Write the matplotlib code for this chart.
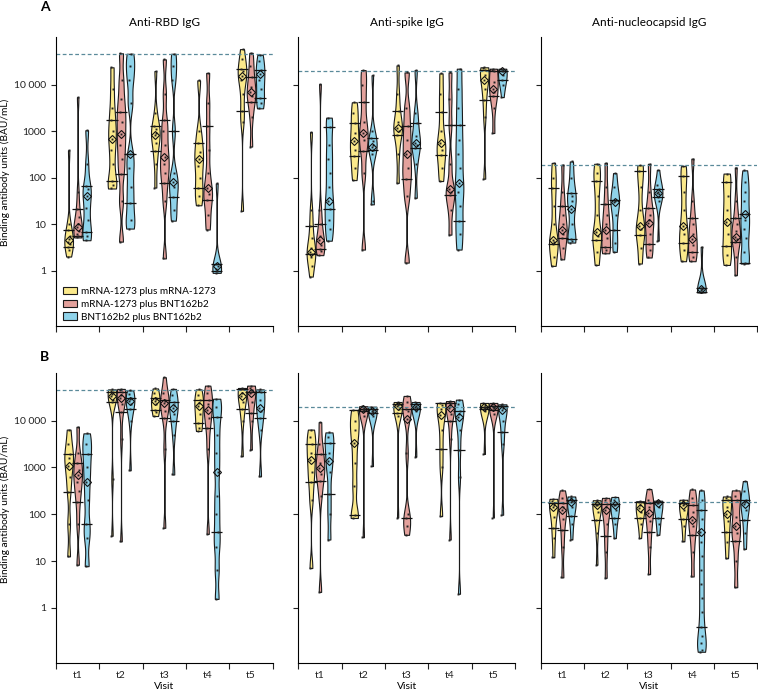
import numpy as np
import matplotlib
matplotlib.use("Agg")
import matplotlib.pyplot as plt
from matplotlib.patches import Patch

plt.rcParams.update({
    "font.family": ["Lato", "DejaVu Sans"],
    "font.size": 7.5,
    "axes.linewidth": 0.8,
    "xtick.major.width": 0.8,
    "ytick.major.width": 0.8,
    "xtick.major.size": 4,
    "ytick.major.size": 3.5,
    "xtick.color": "#222222",
    "ytick.color": "#222222",
})

VISITS = ["t1", "t2", "t3", "t4", "t5"]
GROUPS = ["mRNA-1273 plus mRNA-1273", "mRNA-1273 plus BNT162b2", "BNT162b2 plus BNT162b2"]
COLORS = ["#fbe98b", "#e3a19c", "#8fd3ea"]
ANTIGENS = ["Anti-RBD IgG", "Anti-spike IgG", "Anti-nucleocapsid IgG"]
ULOQ = [4.66, 4.30, 2.27]          # dashed reference lines, log10 BAU/mL

# every violin: (lower line, diamond, upper line, individual values), all log10 BAU/mL
# --- panel A ---
rbd_a_mm = [
    (0.52, 0.66, 0.88, [0.31, 0.45, 0.52, 0.58, 0.63, 0.68, 0.75, 0.88, 1.0, 2.59]),
    (1.93, 2.84, 3.23, [1.77, 1.85, 1.93, 2.3, 2.6, 2.84, 3.0, 3.23, 3.5, 3.9, 4.37]),
    (2.57, 2.91, 3.10, [1.79, 2.3, 2.57, 2.75, 2.91, 2.95, 3.05, 3.1, 3.4, 4.29]),
    (1.77, 2.41, 2.75, [1.41, 1.6, 1.77, 2.0, 2.25, 2.41, 2.55, 2.75, 3.0, 4.09]),
    (3.44, 4.18, 4.34, [1.29, 3.2, 3.44, 3.8, 4.1, 4.18, 4.3, 4.34, 4.55, 4.76]),
]
rbd_a_mb = [
    (0.76, 0.94, 1.34, [0.72, 0.76, 0.8, 0.86, 0.94, 1.0, 1.15, 1.34, 1.7, 3.73]),
    (2.09, 2.93, 3.41, [0.63, 1.5, 2.09, 2.4, 2.7, 2.93, 3.2, 3.41, 3.7, 4.1, 4.67]),
    (1.89, 2.45, 3.23, [0.27, 1.5, 1.89, 2.1, 2.3, 2.45, 2.7, 3.0, 3.23, 3.8, 4.54]),
    (1.52, 1.77, 3.10, [0.89, 1.2, 1.52, 1.65, 1.77, 2.1, 2.6, 3.1, 3.6, 4.25]),
    (3.62, 3.84, 4.16, [2.67, 3.3, 3.62, 3.75, 3.84, 3.95, 4.16, 4.4, 4.68]),
]
rbd_a_bb = [
    (0.83, 1.60, 1.83, [0.66, 0.75, 0.83, 1.1, 1.35, 1.6, 1.75, 1.83, 2.3, 3.02]),
    (1.45, 2.50, 2.50, [0.91, 1.1, 1.45, 1.8, 2.2, 2.5, 3.6, 4.1, 4.4, 4.66]),
    (1.59, 1.91, 3.00, [1.08, 1.3, 1.59, 1.8, 1.91, 2.1, 3.0, 4.1, 4.4, 4.66]),
    (-0.01, 0.11, 0.16, [-0.04, -0.01, 0.05, 0.11, 0.16, 1.88]),
    (3.71, 4.23, 4.31, [3.49, 3.6, 3.71, 3.9, 4.1, 4.23, 4.31, 4.5, 4.64]),
]
spike_a_mm = [
    (0.36, 0.41, 0.97, [-0.12, 0.1, 0.3, 0.36, 0.41, 0.5, 0.7, 0.97, 1.3, 2.98]),
    (2.46, 2.78, 3.18, [1.95, 2.2, 2.46, 2.6, 2.78, 2.95, 3.18, 3.4, 3.62]),
    (2.92, 3.07, 3.44, [1.89, 2.5, 2.92, 3.0, 3.07, 3.2, 3.44, 3.8, 4.41]),
    (2.48, 2.75, 3.42, [1.93, 2.2, 2.48, 2.6, 2.75, 3.0, 3.42, 3.8, 4.24]),
    (3.67, 4.09, 4.31, [1.98, 3.3, 3.67, 3.9, 4.09, 4.2, 4.31, 4.35, 4.37]),
]
spike_a_mb = [
    (0.47, 0.66, 1.00, [0.34, 0.42, 0.47, 0.55, 0.66, 0.75, 1.0, 1.3, 4.01]),
    (2.57, 2.97, 3.62, [0.46, 2.1, 2.57, 2.8, 2.97, 3.2, 3.62, 4.0, 4.31]),
    (1.97, 2.50, 3.11, [0.18, 1.6, 1.97, 2.2, 2.5, 2.8, 3.11, 3.5, 4.26]),
    (1.63, 1.75, 3.14, [0.78, 1.3, 1.63, 1.7, 1.75, 2.3, 3.14, 3.7, 4.26]),
    (3.76, 3.91, 4.28, [2.96, 3.5, 3.76, 3.85, 3.91, 4.05, 4.28, 4.31, 4.34]),
]
spike_a_bb = [
    (1.34, 1.50, 3.08, [0.65, 0.9, 1.1, 1.34, 1.5, 1.8, 2.1, 2.4, 2.7, 3.08, 3.29]),
    (2.59, 2.66, 2.85, [1.43, 1.5, 2.5, 2.59, 2.66, 2.7, 2.78, 2.85, 3.0, 4.2]),
    (2.64, 2.75, 3.17, [1.57, 2.3, 2.64, 2.7, 2.75, 2.9, 3.17, 3.4, 4.31]),
    (1.08, 1.88, 3.14, [0.46, 0.8, 1.08, 1.4, 1.7, 1.88, 2.2, 2.5, 2.8, 3.14, 3.5, 3.9, 4.34]),
    (4.10, 4.29, 4.28, [3.73, 4.0, 4.1, 4.2, 4.29, 4.3, 4.32, 4.34]),
]
nuc_a_mm = [
    (0.57, 0.66, 1.77, [0.11, 0.3, 0.57, 0.62, 0.66, 1.0, 1.4, 1.77, 2.0, 2.32]),
    (0.66, 0.83, 1.93, [0.13, 0.4, 0.66, 0.75, 0.83, 1.2, 1.6, 1.93, 2.1, 2.3]),
    (0.77, 0.97, 2.14, [0.16, 0.5, 0.77, 0.9, 0.97, 1.3, 1.8, 2.14, 2.27]),
    (0.61, 0.97, 2.03, [0.21, 0.45, 0.61, 0.8, 0.97, 1.3, 1.7, 2.03, 2.25]),
    (0.54, 1.06, 1.91, [0.13, 0.35, 0.54, 0.8, 1.06, 1.3, 1.6, 1.91, 2.09]),
]
nuc_a_mb = [
    (0.70, 0.89, 1.39, [0.25, 0.5, 0.7, 0.8, 0.89, 1.0, 1.2, 1.39, 1.7, 2.28]),
    (0.52, 0.88, 1.43, [0.38, 0.45, 0.52, 0.7, 0.88, 1.0, 1.2, 1.43, 1.8, 2.32]),
    (0.57, 1.02, 1.36, [0.29, 0.45, 0.57, 0.8, 1.02, 1.1, 1.2, 1.36, 1.7, 2.3]),
    (0.40, 0.68, 1.13, [0.21, 0.3, 0.4, 0.55, 0.68, 0.8, 1.0, 1.13, 1.5, 2.41]),
    (0.63, 0.73, 1.13, [-0.09, 0.3, 0.63, 0.68, 0.73, 0.85, 1.0, 1.13, 1.5, 2.22]),
]
nuc_a_bb = [
    (0.68, 1.33, 1.68, [0.61, 0.65, 0.68, 1.0, 1.33, 1.5, 1.6, 1.68, 2.0, 2.35]),
    (0.88, 1.48, 1.53, [0.41, 0.6, 0.88, 1.2, 1.48, 1.5, 1.53, 1.8, 2.1]),
    (1.59, 1.68, 1.75, [0.65, 1.5, 1.59, 1.65, 1.68, 1.7, 1.75, 1.85, 2.17]),
    (-0.44, -0.39, -0.36, [-0.46, -0.44, -0.41, -0.39, -0.37, -0.36, 0.52]),
    (0.18, 1.23, 1.23, [0.16, 0.18, 0.4, 0.7, 0.9, 1.1, 1.23, 1.5, 1.7, 1.9, 2.16]),
]
# --- panel B ---
rbd_b_mm = [
    (2.48, 3.04, 3.28, [1.1, 1.8, 2.48, 2.8, 3.04, 3.2, 3.28, 3.5, 3.81]),
    (4.40, 4.53, 4.61, [1.54, 2.75, 4.4, 4.45, 4.53, 4.58, 4.61, 4.64, 4.67]),
    (4.23, 4.42, 4.49, [4.1, 4.18, 4.23, 4.35, 4.42, 4.46, 4.49, 4.6, 4.69]),
    (3.95, 4.31, 4.44, [3.78, 3.85, 3.95, 4.15, 4.31, 4.38, 4.44, 4.55, 4.67]),
    (4.24, 4.53, 4.67, [3.24, 4.0, 4.24, 4.4, 4.53, 4.6, 4.67, 4.68, 4.70]),
]
rbd_b_mb = [
    (2.26, 2.83, 3.10, [0.92, 1.8, 2.26, 2.5, 2.7, 2.83, 2.95, 3.1, 3.3, 3.87]),
    (4.18, 4.49, 4.61, [1.42, 3.6, 4.18, 4.35, 4.49, 4.55, 4.61, 4.65, 4.68]),
    (4.05, 4.38, 4.45, [1.71, 3.4, 4.05, 4.2, 4.38, 4.42, 4.45, 4.6, 4.93]),
    (3.85, 4.23, 4.45, [1.58, 3.4, 3.85, 4.05, 4.23, 4.35, 4.45, 4.6, 4.75]),
    (4.17, 4.60, 4.61, [3.38, 4.0, 4.17, 4.4, 4.6, 4.62, 4.65, 4.7, 4.75]),
]
rbd_b_bb = [
    (1.80, 2.70, 3.29, [0.89, 1.5, 1.8, 2.3, 2.7, 3.0, 3.29, 3.5, 3.73]),
    (4.24, 4.42, 4.49, [2.94, 4.0, 4.24, 4.35, 4.42, 4.46, 4.49, 4.58, 4.65]),
    (3.99, 4.28, 4.40, [2.85, 3.7, 3.99, 4.15, 4.28, 4.34, 4.4, 4.55, 4.68]),
    (1.61, 2.91, 4.08, [0.19, 0.8, 1.3, 1.61, 2.0, 2.4, 2.91, 3.3, 3.7, 4.08, 4.3, 4.47]),
    (4.05, 4.28, 4.61, [2.81, 3.8, 4.05, 4.2, 4.28, 4.45, 4.61, 4.64, 4.67]),
]
spike_b_mm = [
    (2.69, 3.15, 3.50, [0.85, 2.3, 2.69, 2.9, 3.15, 3.3, 3.5, 3.65, 3.81]),
    (1.99, 3.53, 4.23, [1.92, 1.99, 2.6, 3.1, 3.53, 3.8, 4.0, 4.23]),
    (4.17, 4.31, 4.35, [1.93, 4.1, 4.17, 4.25, 4.31, 4.33, 4.35, 4.38, 4.4]),
    (3.40, 4.12, 4.38, [1.96, 3.0, 3.4, 3.8, 4.12, 4.25, 4.33, 4.38]),
    (4.26, 4.29, 4.29, [3.29, 4.2, 4.26, 4.28, 4.29, 4.3, 4.33, 4.38]),
]
spike_b_mb = [
    (2.72, 2.99, 3.28, [0.34, 2.4, 2.72, 2.85, 2.99, 3.1, 3.28, 3.5, 3.97]),
    (4.20, 4.25, 4.26, [1.51, 4.1, 4.2, 4.23, 4.25, 4.26, 4.28, 4.31]),
    (1.91, 4.04, 4.26, [1.56, 1.75, 1.91, 2.0, 3.3, 4.04, 4.2, 4.26, 4.4, 4.53]),
    (3.99, 4.28, 4.38, [1.46, 3.6, 3.99, 4.15, 4.28, 4.33, 4.38, 4.4, 4.42]),
    (4.23, 4.29, 4.31, [1.93, 4.15, 4.23, 4.27, 4.29, 4.3, 4.31, 4.35, 4.38]),
]
spike_b_bb = [
    (2.43, 3.13, 3.53, [1.46, 2.0, 2.43, 2.9, 3.13, 3.3, 3.53, 3.65, 3.75]),
    (4.17, 4.20, 4.25, [3.03, 4.1, 4.17, 4.19, 4.2, 4.22, 4.25, 4.3]),
    (4.25, 4.29, 4.35, [3.23, 4.2, 4.25, 4.27, 4.29, 4.32, 4.35, 4.4]),
    (3.37, 4.08, 4.20, [0.3, 2.8, 3.37, 3.8, 4.08, 4.15, 4.2, 4.35, 4.45]),
    (3.75, 4.23, 4.31, [1.99, 3.5, 3.75, 4.0, 4.23, 4.27, 4.31, 4.33, 4.35]),
]
nuc_b_mm = [
    (1.71, 2.15, 2.24, [1.08, 1.5, 1.71, 1.95, 2.15, 2.2, 2.24, 2.28, 2.33]),
    (1.87, 2.19, 2.22, [0.92, 1.6, 1.87, 2.05, 2.19, 2.2, 2.22, 2.26, 2.3]),
    (1.92, 2.13, 2.26, [1.49, 1.8, 1.92, 2.05, 2.13, 2.2, 2.26, 2.27, 2.28]),
    (1.90, 2.19, 2.24, [1.42, 1.75, 1.9, 2.1, 2.19, 2.22, 2.24, 2.28, 2.31]),
    (1.62, 2.01, 2.31, [1.06, 1.4, 1.62, 1.85, 2.01, 2.15, 2.31, 2.35, 2.38]),
]
nuc_b_mb = [
    (1.66, 2.10, 2.24, [0.65, 1.3, 1.66, 1.9, 2.1, 2.15, 2.24, 2.35, 2.51]),
    (1.54, 2.10, 2.21, [0.64, 1.2, 1.54, 1.8, 2.1, 2.15, 2.21, 2.3, 2.35]),
    (1.63, 2.03, 2.24, [0.72, 1.3, 1.63, 1.85, 2.03, 2.15, 2.24, 2.3, 2.54]),
    (1.56, 1.88, 2.19, [0.67, 1.2, 1.56, 1.75, 1.88, 2.05, 2.19, 2.35, 2.53]),
    (1.43, 1.74, 2.31, [0.44, 1.0, 1.43, 1.6, 1.74, 1.95, 2.31, 2.4, 2.51]),
]
nuc_b_bb = [
    (1.96, 2.26, 2.30, [1.46, 1.8, 1.96, 2.15, 2.26, 2.28, 2.3, 2.34, 2.38]),
    (1.92, 2.19, 2.21, [1.49, 1.8, 1.92, 2.1, 2.19, 2.2, 2.21, 2.3, 2.37]),
    (1.91, 2.24, 2.26, [1.56, 1.8, 1.91, 2.15, 2.24, 2.25, 2.26, 2.28, 2.29]),
    (-0.40, 1.61, 2.10, [-0.94, -0.9, -0.75, -0.6, -0.4, -0.1, 0.2, 0.5, 0.8, 1.1, 1.4,
                         1.61, 1.9, 2.1, 2.3, 2.51]),
    (1.88, 2.22, 2.31, [1.26, 1.6, 1.88, 2.1, 2.22, 2.27, 2.31, 2.5, 2.71]),
]

PANELS = [
    [(rbd_a_mm, rbd_a_mb, rbd_a_bb), (spike_a_mm, spike_a_mb, spike_a_bb), (nuc_a_mm, nuc_a_mb, nuc_a_bb)],
    [(rbd_b_mm, rbd_b_mb, rbd_b_bb), (spike_b_mm, spike_b_mb, spike_b_bb), (nuc_b_mm, nuc_b_mb, nuc_b_bb)],
]

OFFSETS = [-0.208, 0.0, 0.208]
JIT = np.resize(np.array([-0.03, 0.02, -0.01, 0.03, -0.02, 0.01, 0.025, -0.025, 0.0, 0.015, -0.015]), 20)
BW = 0.22   # kernel bandwidth in log10 units


def bandwidth(kde):
    sd = np.std(kde.dataset, ddof=1)
    return BW / sd if sd > 0 else 1.0


def draw_panel(ax, groups, uloq):
    for series, color, off in zip(groups, COLORS, OFFSETS):
        pos = np.arange(5) + 0.5 + off
        parts = ax.violinplot([s[3] for s in series], pos, widths=0.2,
                              showextrema=False, bw_method=bandwidth)
        for body in parts["bodies"]:
            body.set_facecolor(color)
            body.set_edgecolor("#1a1a1a")
            body.set_linewidth(0.8)
            body.set_alpha(1)
        for x, (q1, mid, q3, vals) in zip(pos, series):
            ax.hlines([q1, q3], x - 0.13, x + 0.13, color="#111111", lw=0.9, zorder=3)
            ax.plot(x + JIT[:len(vals)] * 0.8, vals, ls="none", marker="s", ms=1.4,
                    mfc="#222222", mec="none", zorder=4)
            ax.plot(x, mid, marker="D", ms=4.2, mfc="none", mec="#111111", mew=0.8, zorder=5)
    ax.axhline(uloq, color="#5a8a9a", ls=(0, (3, 2)), lw=0.9, zorder=1)


fig = plt.figure(figsize=(7.58, 6.97), dpi=100)
W, H = 758.0, 697.0
lefts = [56.0, 298.3, 540.7]
rows = [(37.0, 326.0), (373.0, 663.0)]

for r, (top, bottom) in enumerate(rows):
    for c in range(3):
        ax = fig.add_axes([lefts[c] / W, 1 - bottom / H, 216.7 / W, (bottom - top) / H])
        draw_panel(ax, PANELS[r][c], ULOQ[c])
        ax.set_xlim(0, 5)
        ax.set_ylim(-1.18, 5.02)
        for s in ("top", "right"):
            ax.spines[s].set_visible(False)
        ax.set_xticks(np.arange(6))
        ax.set_xticklabels([])
        ax.set_xticks(np.arange(5) + 0.5, minor=True)
        ax.tick_params(axis="x", which="minor", length=0, pad=6)
        if r == 1:
            ax.set_xticklabels(VISITS, minor=True)
            ax.set_xlabel("Visit", labelpad=1)
        if c == 0:
            ax.set_yticks([0, 1, 2, 3, 4])
            ax.set_yticklabels(["1", "10", "100", "1000", "10 000"])
            ax.set_ylabel("Binding antibody units (BAU/mL)", fontsize=7.3)
            ax.yaxis.set_label_coords(-0.21, 0.53)
        else:
            ax.set_yticks([0, 2, 4])
            ax.set_yticklabels([])
        if r == 0:
            ax.set_title(ANTIGENS[c], fontsize=8.5, pad=8)
        if r == 0 and c == 0:
            handles = [Patch(facecolor=col, edgecolor="#1a1a1a", lw=0.8) for col in COLORS]
            ax.legend(handles, GROUPS, loc="lower left", bbox_to_anchor=(0.03, 0.015),
                      frameon=False, handlelength=1.4, handleheight=0.8, fontsize=7.2,
                      labelspacing=0.35, handletextpad=0.4, borderpad=0, borderaxespad=0)

fig.text(40 / W, 1 - 1 / H, "A", fontsize=10, fontweight="bold", va="top")
fig.text(40 / W, 1 - 351 / H, "B", fontsize=10, fontweight="bold", va="top")

fig.savefig("out.png", dpi=100)
